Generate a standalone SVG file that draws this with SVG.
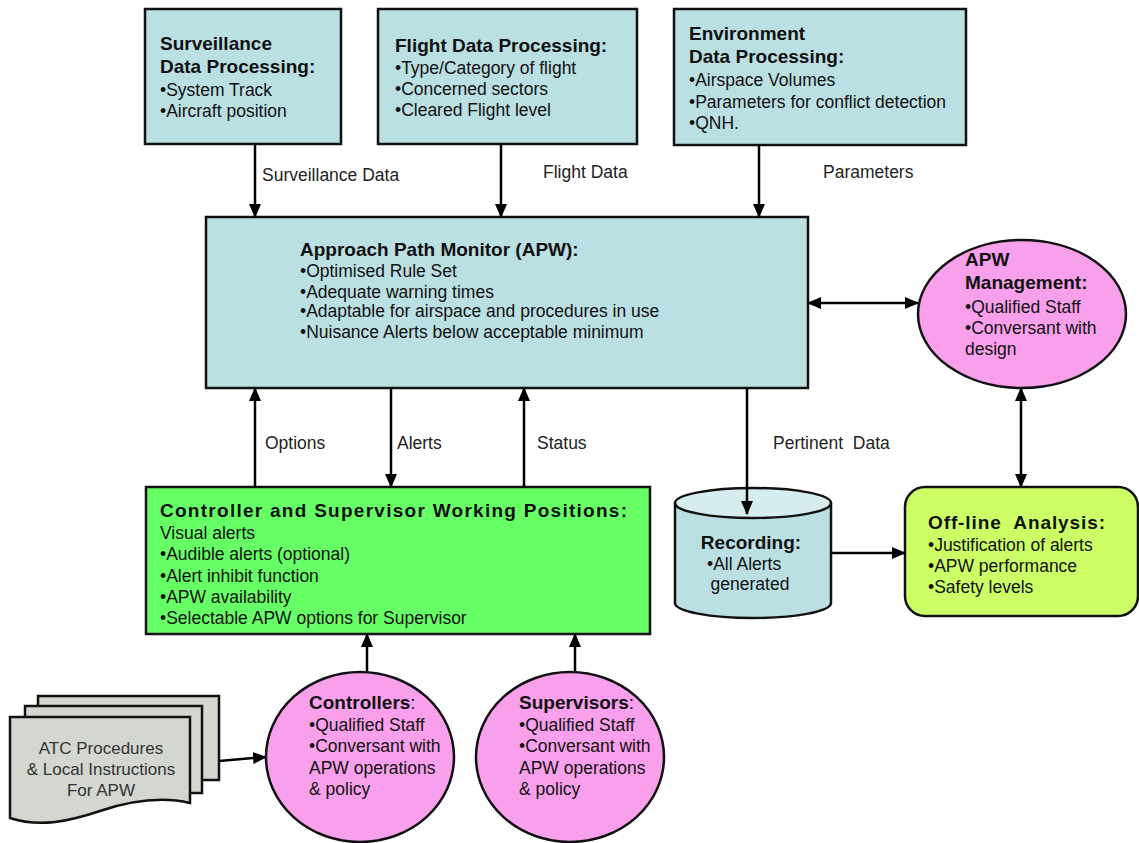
<svg xmlns="http://www.w3.org/2000/svg" width="1139" height="843" viewBox="0 0 1139 843">
<style>
text{font-family:"Liberation Sans",Arial,sans-serif;fill:#111;font-size:17.5px}
.b{font-weight:bold;font-size:19px}
.bl{font-weight:bold;font-size:19px}
.lbl{font-size:17.5px;fill:#222}
.box{fill:#BBE0E3;stroke:#111;stroke-width:2.5}
.pink{fill:#F9A0EC;stroke:#111;stroke-width:2.5}
.doc{fill:#D4D6D0;stroke:#111;stroke-width:2.5}
.c{stroke:#000;stroke-width:2.5;fill:none}
.dt{fill:#333;font-size:17px}
</style>
<defs>
<marker id="ah" markerUnits="userSpaceOnUse" markerWidth="14" markerHeight="12" refX="13" refY="6" orient="auto-start-reverse">
<path d="M0,0 L14,6 L0,12 z" fill="#000"/>
</marker>
</defs>
<rect width="1139" height="843" fill="#fff"/>

<g id="surveillance">
<rect class="box" x="145" y="9" width="196" height="135"/>
<text class="b" x="160" y="50">Surveillance</text>
<text class="b" x="160" y="73">Data Processing:</text>
<text x="160" y="96">•System Track</text>
<text x="160" y="117">•Aircraft position</text>
</g>

<g id="flightdata">
<rect class="box" x="378" y="9" width="259" height="135"/>
<text class="b" x="395" y="52">Flight Data Processing:</text>
<text x="395" y="74">•Type/Category of flight</text>
<text x="395" y="95">•Concerned sectors</text>
<text x="395" y="116">•Cleared Flight level</text>
</g>

<g id="environment">
<rect class="box" x="674" y="9" width="292" height="136"/>
<text class="b" x="689" y="40">Environment</text>
<text class="b" x="689" y="63">Data Processing:</text>
<text x="689" y="86">•Airspace Volumes</text>
<text x="689" y="108">•Parameters for conflict detection</text>
<text x="689" y="129">•QNH.</text>
</g>

<g id="apw">
<rect class="box" x="206" y="217" width="602" height="171"/>
<text class="b" x="300" y="256">Approach Path Monitor (APW):</text>
<text x="300" y="277">•Optimised Rule Set</text>
<text x="300" y="298">•Adequate warning times</text>
<text x="300" y="317">•Adaptable for airspace and procedures in use</text>
<text x="300" y="338">•Nuisance Alerts below acceptable minimum</text>
</g>

<g id="apwmanagement">
<ellipse class="pink" cx="1022" cy="314" rx="104" ry="74"/>
<text class="b" x="965" y="266">APW</text>
<text class="b" x="965" y="289">Management:</text>
<text x="965" y="313">•Qualified Staff</text>
<text x="965" y="334">•Conversant with</text>
<text x="965" y="355">design</text>
</g>

<g id="workingpositions">
<rect x="146" y="487" width="504" height="147" fill="#66FF66" stroke="#111" stroke-width="2.5"/>
<text class="bl" x="160" y="517" textLength="467" lengthAdjust="spacing">Controller and Supervisor Working Positions:</text>
<text x="160" y="539">Visual alerts</text>
<text x="160" y="560">•Audible alerts (optional)</text>
<text x="160" y="582">•Alert inhibit function</text>
<text x="160" y="603">•APW availability</text>
<text x="160" y="624">•Selectable APW options for Supervisor</text>
</g>

<g id="recording">
<path d="M675,503 V603 A78,15 0 0 0 831,603 V503" fill="#BBE0E3" stroke="#111" stroke-width="2.5"/>
<ellipse cx="753" cy="503" rx="78" ry="15" fill="#D6ECEF" stroke="#111" stroke-width="2.5"/>
<text class="b" x="751" y="549" text-anchor="middle">Recording:</text>
<text x="707" y="570">•All Alerts</text>
<text x="750" y="590" text-anchor="middle">generated</text>
</g>

<g id="offline">
<rect x="905" y="487" width="233" height="129" rx="20" ry="20" fill="#CCFF66" stroke="#111" stroke-width="2.5"/>
<text class="bl" x="928" y="529" xml:space="preserve" textLength="177" lengthAdjust="spacing">Off-line  Analysis:</text>
<text x="928" y="551">•Justification of alerts</text>
<text x="928" y="572">•APW performance</text>
<text x="928" y="593">•Safety levels</text>
</g>

<g id="procedures">
<rect class="doc" x="38" y="696" width="181" height="84"/>
<rect class="doc" x="25" y="706" width="177" height="87"/>
<path class="doc" d="M10,717 H190 V803 C160,796 130,801 100,811 C70,821 40,828 10,818 Z"/>
<text class="dt" x="101" y="754" text-anchor="middle">ATC Procedures</text>
<text class="dt" x="101" y="775" text-anchor="middle">&amp; Local Instructions</text>
<text class="dt" x="101" y="796" text-anchor="middle">For APW</text>
</g>

<g id="controllers">
<ellipse class="pink" cx="360" cy="757" rx="94" ry="85"/>
<text class="b" x="309" y="709">Controllers<tspan font-weight="normal">:</tspan></text>
<text x="309" y="731">•Qualified Staff</text>
<text x="309" y="752">•Conversant with</text>
<text x="309" y="774">APW operations</text>
<text x="309" y="795">&amp; policy</text>
</g>

<g id="supervisors">
<ellipse class="pink" cx="570" cy="757" rx="94" ry="85"/>
<text class="b" x="519" y="709">Supervisors<tspan font-weight="normal">:</tspan></text>
<text x="519" y="731">•Qualified Staff</text>
<text x="519" y="752">•Conversant with</text>
<text x="519" y="774">APW operations</text>
<text x="519" y="795">&amp; policy</text>
</g>

<g id="connectors">
<line class="c" x1="255" y1="144" x2="255" y2="217" marker-end="url(#ah)"/>
<line class="c" x1="501" y1="144" x2="501" y2="217" marker-end="url(#ah)"/>
<line class="c" x1="759" y1="145" x2="759" y2="217" marker-end="url(#ah)"/>
<line class="c" x1="255" y1="487" x2="255" y2="388" marker-end="url(#ah)"/>
<line class="c" x1="391" y1="388" x2="391" y2="487" marker-end="url(#ah)"/>
<line class="c" x1="524" y1="487" x2="524" y2="388" marker-end="url(#ah)"/>
<line class="c" x1="747" y1="388" x2="747" y2="514" marker-end="url(#ah)"/>
<line class="c" x1="808" y1="303" x2="918" y2="303" marker-start="url(#ah)" marker-end="url(#ah)"/>
<line class="c" x1="1021" y1="388" x2="1021" y2="487" marker-start="url(#ah)" marker-end="url(#ah)"/>
<line class="c" x1="831" y1="553" x2="905" y2="553" marker-end="url(#ah)"/>
<line class="c" x1="367" y1="672" x2="367" y2="634" marker-end="url(#ah)"/>
<line class="c" x1="575" y1="672" x2="575" y2="634" marker-end="url(#ah)"/>
<line class="c" x1="219" y1="761" x2="266" y2="757" marker-end="url(#ah)"/>
<text class="lbl" x="262" y="181">Surveillance Data</text>
<text class="lbl" x="543" y="178">Flight Data</text>
<text class="lbl" x="823" y="178">Parameters</text>
<text class="lbl" x="265" y="449">Options</text>
<text class="lbl" x="397" y="449">Alerts</text>
<text class="lbl" x="537" y="449">Status</text>
<text class="lbl" x="773" y="449" xml:space="preserve">Pertinent  Data</text>
</g>
</svg>
